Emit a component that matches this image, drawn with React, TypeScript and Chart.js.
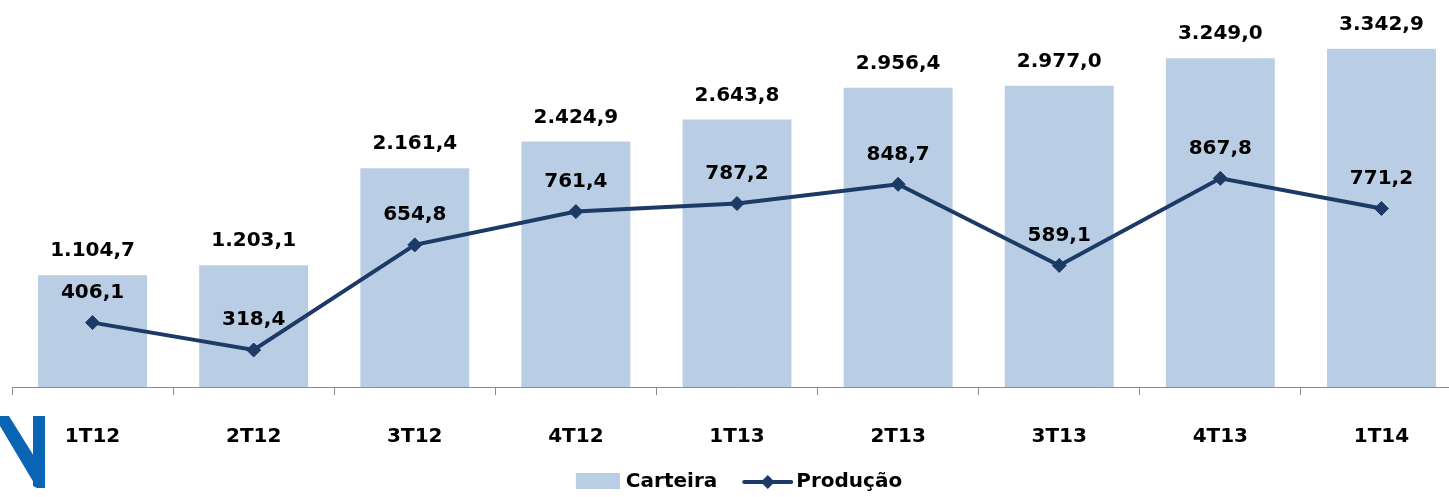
import React, { useEffect, useRef } from "react";
import { Chart, registerables } from "chart.js";

Chart.register(...registerables);

const categories = ["1T12", "2T12", "3T12", "4T12", "1T13", "2T13", "3T13", "4T13", "1T14"];
const carteira = [1104.7, 1203.1, 2161.4, 2424.9, 2643.8, 2956.4, 2977.0, 3249.0, 3342.9];
const producao = [406.1, 318.4, 654.8, 761.4, 787.2, 848.7, 589.1, 867.8, 771.2];

const BAR_COLOR = "#B9CDE5";
const LINE_COLOR = "#1B3A66";
const FONT = 'bold 20px "DejaVu Sans"';

function fmt(v: number): string {
  const fixed = v.toFixed(1);
  const [intPart, dec] = fixed.split(".");
  const withDots = intPart.replace(/\B(?=(\d{3})+(?!\d))/g, ".");
  return withDots + "," + dec;
}

function drawDiamond(ctx: CanvasRenderingContext2D, x: number, y: number, r: number) {
  ctx.beginPath();
  ctx.moveTo(x, y - r);
  ctx.lineTo(x + r, y);
  ctx.lineTo(x, y + r);
  ctx.lineTo(x - r, y);
  ctx.closePath();
  ctx.fill();
}

const labelsPlugin = {
  id: "customLabels",
  afterDatasetsDraw(chart: any) {
    const ctx = chart.ctx as CanvasRenderingContext2D;
    ctx.save();
    ctx.font = FONT;
    ctx.fillStyle = "#000";
    ctx.textAlign = "center";
    ctx.textBaseline = "middle";
    const barMeta = chart.getDatasetMeta(1);
    barMeta.data.forEach((el: any, i: number) => {
      ctx.fillText(fmt(carteira[i]), el.x, el.y - 24);
    });
    const lineMeta = chart.getDatasetMeta(0);
    lineMeta.data.forEach((el: any, i: number) => {
      ctx.fillText(fmt(producao[i]), el.x, el.y - 30);
    });
    ctx.restore();
  },
  afterDraw(chart: any) {
    const ctx = chart.ctx as CanvasRenderingContext2D;
    const area = chart.chartArea;
    ctx.save();
    // legend
    ctx.font = FONT;
    ctx.textBaseline = "middle";
    ctx.textAlign = "left";
    const t1 = "Carteira";
    const t2 = "Produção";
    const w1 = ctx.measureText(t1).width;
    const w2 = ctx.measureText(t2).width;
    const boxW = 44, boxH = 16, gap = 6, gapItems = 27, lineLen = 47;
    const total = boxW + gap + w1 + gapItems + lineLen + 5 + w2;
    const cx = (area.left + area.right) / 2 + 2;
    let x = cx - total / 2;
    const y = 482;
    ctx.fillStyle = BAR_COLOR;
    ctx.fillRect(x, y - boxH / 2 - 1, boxW, boxH);
    x += boxW + gap;
    ctx.fillStyle = "#000";
    ctx.fillText(t1, x, y);
    x += w1 + gapItems;
    ctx.strokeStyle = LINE_COLOR;
    ctx.lineWidth = 4;
    ctx.lineCap = "round";
    ctx.beginPath();
    ctx.moveTo(x, y);
    ctx.lineTo(x + lineLen, y);
    ctx.stroke();
    ctx.fillStyle = LINE_COLOR;
    drawDiamond(ctx, x + lineLen / 2, y, 7);
    x += lineLen + 5;
    ctx.fillStyle = "#000";
    ctx.fillText(t2, x, y);

    // logo fragment
    ctx.fillStyle = "#0A64B4";
    ctx.beginPath();
    ctx.moveTo(-6, 416);
    ctx.lineTo(9, 416);
    ctx.lineTo(45, 474);
    ctx.lineTo(45, 488);
    ctx.lineTo(37, 488);
    ctx.closePath();
    ctx.fill();
    ctx.beginPath();
    ctx.moveTo(33, 416);
    ctx.lineTo(45, 416);
    ctx.lineTo(45, 486);
    ctx.quadraticCurveTo(39, 490, 33, 486);
    ctx.closePath();
    ctx.fill();
    ctx.restore();
  },
};

export default function App() {
  const canvasRef = useRef<HTMLCanvasElement | null>(null);

  useEffect(() => {
    document.body.style.margin = "0";
    const canvas = canvasRef.current;
    if (!canvas) return;
    const chart = new Chart(canvas, {
      type: "bar",
      data: {
        labels: categories,
        datasets: [
          {
            type: "line",
            label: "Produção",
            data: producao,
            yAxisID: "y1",
            borderColor: LINE_COLOR,
            backgroundColor: LINE_COLOR,
            borderWidth: 4,
            pointStyle: "rectRot",
            pointRadius: 7,
            pointBorderWidth: 1,
            pointBackgroundColor: LINE_COLOR,
            pointBorderColor: LINE_COLOR,
            tension: 0,
            order: 0,
          } as any,
          {
            type: "bar",
            label: "Carteira",
            data: carteira,
            yAxisID: "y",
            backgroundColor: BAR_COLOR,
            borderWidth: 0,
            categoryPercentage: 1,
            barPercentage: 0.676,
            order: 1,
          },
        ],
      },
      options: {
        responsive: true,
        maintainAspectRatio: false,
        animation: false,
        layout: { padding: { left: 12, right: 6, top: 3, bottom: 18 } },
        plugins: {
          legend: { display: false },
          tooltip: { enabled: false },
        },
        scales: {
          x: {
            offset: true,
            grid: {
              display: true,
              drawOnChartArea: false,
              drawTicks: true,
              tickLength: 8,
              color: "#8C8C8C",
              offset: true,
            },
            border: { display: true, color: "#8C8C8C", width: 1 },
            ticks: {
              color: "#000",
              font: { family: "DejaVu Sans", size: 20, weight: "bold", lineHeight: 1.2 },
              padding: 30,
              maxRotation: 0,
              autoSkip: false,
            },
          },
          y: {
            display: false,
            min: 0,
            max: 3745,
          },
          y1: {
            display: false,
            position: "right",
            min: 200,
            max: 1413,
          },
        },
      },
      plugins: [labelsPlugin],
    });
    return () => chart.destroy();
  }, []);

  return (
    <div
      style={{
        position: "fixed",
        left: 0,
        top: 0,
        width: 1449,
        height: 497,
        overflow: "hidden",
        background: "#fff",
      }}
    >
      <div style={{ position: "relative", width: 1470, height: 497 }}>
        <canvas ref={canvasRef} />
      </div>
    </div>
  );
}
